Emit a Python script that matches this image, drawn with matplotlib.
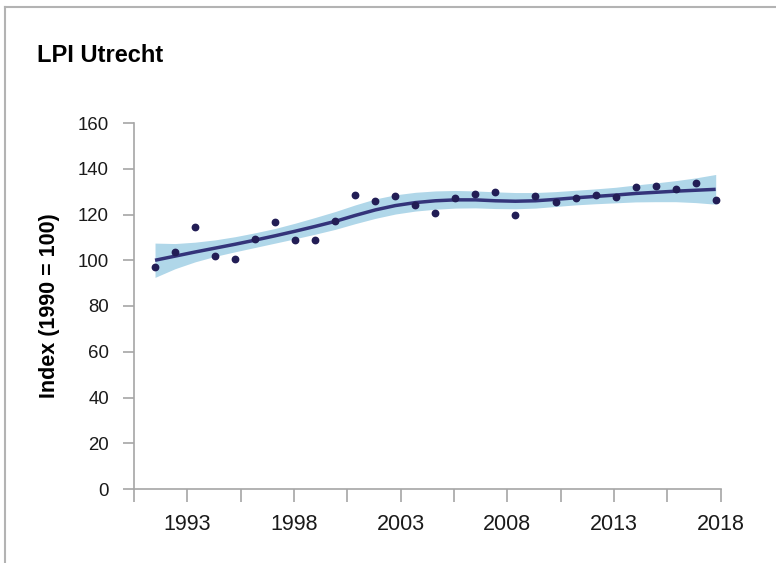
import numpy as np
import matplotlib
matplotlib.use("Agg")
from matplotlib import pyplot as plt
from matplotlib.lines import Line2D

plt.rcParams['font.family'] = ['Liberation Sans', 'DejaVu Sans']

years = list(range(1990, 2019))
# jaarlijkse index (punten)
index_values = [96.9, 103.7, 114.7, 101.9, 100.7, 109.2, 116.9, 108.7, 108.7, 117.2,
                128.4, 126.0, 128.0, 124.0, 120.8, 127.3, 129.1, 129.8, 119.7, 128.2,
                125.6, 127.3, 128.5, 127.8, 131.9, 132.5, 131.1, 133.9, 126.3]
# trendlijn
trend = [100.0, 101.8, 103.6, 105.3, 107.0, 108.8, 110.7, 112.7, 114.8, 117.0,
         119.6, 122.0, 123.9, 125.2, 126.0, 126.4, 126.4, 126.0, 125.8, 126.0,
         126.6, 127.3, 127.9, 128.5, 129.2, 129.7, 130.2, 130.6, 131.0]
# betrouwbaarheidsband
lower = [92.5, 96.3, 99.3, 101.7, 103.7, 105.6, 107.5, 109.4, 111.4, 113.5,
         116.0, 118.3, 120.2, 121.5, 122.3, 122.8, 122.9, 122.6, 122.5, 122.8,
         123.5, 124.2, 124.7, 125.1, 125.5, 125.6, 125.6, 125.2, 124.5]
upper = [107.5, 107.3, 107.9, 108.9, 110.3, 112.0, 113.9, 116.2, 118.7, 121.3,
         124.2, 126.8, 128.6, 129.7, 130.3, 130.5, 130.3, 129.9, 129.6, 129.6,
         130.0, 130.6, 131.2, 131.9, 132.9, 133.8, 134.8, 136.0, 137.5]

y_ticks = [0, 20, 40, 60, 80, 100, 120, 140, 160]
x_labels = [1993, 1998, 2003, 2008, 2013, 2018]

W, H = 776, 563
fig = plt.figure(figsize=(W / 100, H / 100), dpi=100)
ax = fig.add_axes([134 / W, 1 - 489 / H, (720.7 - 134) / W, (489 - 123) / H])

band_col = '#b0d7e9'
line_col = '#34347a'
dot_col = '#221d55'
grey = '#a6a6a6'

ax.fill_between(years, lower, upper, color=band_col, lw=0, zorder=1)
ax.plot(years, trend, color=line_col, lw=2.5, zorder=2, solid_capstyle='butt')
ax.plot(years, index_values, 'o', color=dot_col, ms=4.6, zorder=3, clip_on=False)

ax.set_xlim(1988.95, 2018.25)
ax.set_ylim(0, 160)
ax.set_yticks(y_ticks)
ax.set_xticks([])
for s in ['top', 'right']:
    ax.spines[s].set_visible(False)
for s in ['left', 'bottom']:
    ax.spines[s].set_color(grey)
    ax.spines[s].set_linewidth(1.2)
ax.tick_params(axis='y', length=8, width=1.2, color=grey, pad=10,
               labelsize=13.4, labelcolor='#1a1a1a')

# aparte as voor de jaartallen (schaal van het origineel)
ax_t = ax.twiny()
ax_t.set_xlim(1990.5, 2018)
for s in ax_t.spines.values():
    s.set_visible(False)
ax_t.xaxis.set_ticks_position('bottom')
ax_t.xaxis.set_label_position('bottom')
ax_t.set_xticks(x_labels)
ax_t.set_xticklabels([str(x) for x in x_labels])
ax_t.set_xticks(np.arange(1990.5, 2016, 5), minor=True)
ax_t.tick_params(axis='x', which='both', length=9, width=1.2, color=grey,
                 direction='out', pad=9, labelsize=15.5, labelcolor='#1a1a1a')

fig.text(37 / W, 1 - 61.7 / H, 'LPI Utrecht', fontsize=17, fontweight='bold',
         ha='left', va='baseline')
fig.text(50 / W, 1 - 306 / H, 'Index (1990 = 100)', fontsize=15.5, fontweight='bold',
         rotation=90, ha='center', va='center')

fig.add_artist(Line2D([5 / W, 5 / W], [0, 1 - 7 / H], color='#b3b3b3', lw=1.5))
fig.add_artist(Line2D([5 / W, 1], [1 - 7 / H, 1 - 7 / H], color='#b3b3b3', lw=1.5))

plt.savefig('out.png', dpi=100)
